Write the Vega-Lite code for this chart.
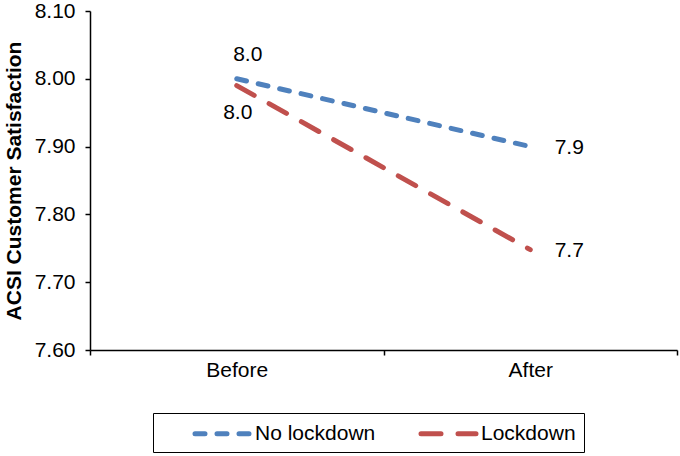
{
  "$schema": "https://vega.github.io/schema/vega-lite/v6.json",
  "width": 587,
  "height": 339,
  "autosize": {"type": "none"},
  "padding": {"left": 90, "top": 11, "right": 3, "bottom": 106},
  "background": "white",
  "config": {
    "view": {"stroke": null},
    "font": "Liberation Sans",
    "text": {"font": "Liberation Sans", "fontSize": 21, "color": "black"},
    "legend": {
      "title": null,
      "orient": "none",
      "legendX": 63,
      "legendY": 402,
      "direction": "horizontal",
      "symbolType": "M-2.75,0H2.75",
      "symbolSize": 400,
      "symbolStrokeWidth": 5,
      "symbolOffset": 49,
      "labelFont": "Liberation Sans",
      "labelFontSize": 21,
      "labelColor": "black",
      "labelOffset": 20,
      "columnPadding": 11,
      "padding": 8,
      "strokeColor": "black",
      "fillColor": "white"
    }
  },
  "data": {
    "values": [
      {"period": "Before", "series": "No lockdown", "value": 8.0},
      {"period": "After", "series": "No lockdown", "value": 7.9},
      {"period": "Before", "series": "Lockdown", "value": 7.99},
      {"period": "After", "series": "Lockdown", "value": 7.748}
    ]
  },
  "encoding": {
    "x": {
      "field": "period",
      "type": "nominal",
      "sort": ["Before", "After"],
      "scale": {"paddingInner": 0, "paddingOuter": 0},
      "axis": {
        "title": null,
        "labelAngle": 0,
        "tickBand": "extent",
        "labelFont": "Liberation Sans",
        "labelFontSize": 21,
        "labelColor": "black",
        "labelPadding": 4,
        "tickColor": "black",
        "tickSize": 5,
        "tickWidth": 1.5,
        "domainColor": "black",
        "domainWidth": 1.5
      }
    },
    "y": {
      "field": "value",
      "type": "quantitative",
      "scale": {"domain": [7.6, 8.1], "nice": false, "zero": false},
      "axis": {
        "title": "ACSI Customer Satisfaction",
        "titleFont": "Liberation Sans",
        "titleFontSize": 21,
        "titleFontWeight": "bold",
        "titleColor": "black",
        "titlePadding": 10,
        "values": [7.6, 7.7, 7.8, 7.9, 8.0, 8.1],
        "format": ".2f",
        "grid": false,
        "labelFont": "Liberation Sans",
        "labelFontSize": 21,
        "labelColor": "black",
        "labelPadding": 10,
        "tickColor": "black",
        "tickSize": 5,
        "tickWidth": 1.5,
        "domainColor": "black",
        "domainWidth": 1.5
      }
    }
  },
  "layer": [
    {
      "mark": {"type": "line", "strokeWidth": 5, "strokeCap": "round"},
      "encoding": {
        "color": {
          "field": "series",
          "type": "nominal",
          "scale": {"domain": ["No lockdown", "Lockdown"], "range": ["#4F81BD", "#C0504D"]},
          "legend": {
            "encode": {"symbols": {"update": {"strokeCap": {"value": "round"}}}}
          }
        },
        "strokeDash": {
          "field": "series",
          "type": "nominal",
          "scale": {"domain": ["No lockdown", "Lockdown"], "range": [[10, 12], [20, 17]]},
          "legend": {
            "encode": {"symbols": {"update": {"strokeCap": {"value": "round"}}}}
          }
        }
      }
    },
    {
      "transform": [{"filter": "datum.series === 'No lockdown' && datum.period === 'Before'"}],
      "mark": {"type": "text", "dx": 11, "dy": -24},
      "encoding": {"text": {"field": "value", "type": "quantitative", "format": ".1f"}}
    },
    {
      "transform": [{"filter": "datum.series === 'Lockdown' && datum.period === 'Before'"}],
      "mark": {"type": "text", "dx": 1, "dy": 27},
      "encoding": {"text": {"field": "value", "type": "quantitative", "format": ".1f"}}
    },
    {
      "transform": [{"filter": "datum.period === 'After'"}],
      "mark": {"type": "text", "dx": 39, "dy": 1},
      "encoding": {"text": {"field": "value", "type": "quantitative", "format": ".1f"}}
    }
  ]
}
